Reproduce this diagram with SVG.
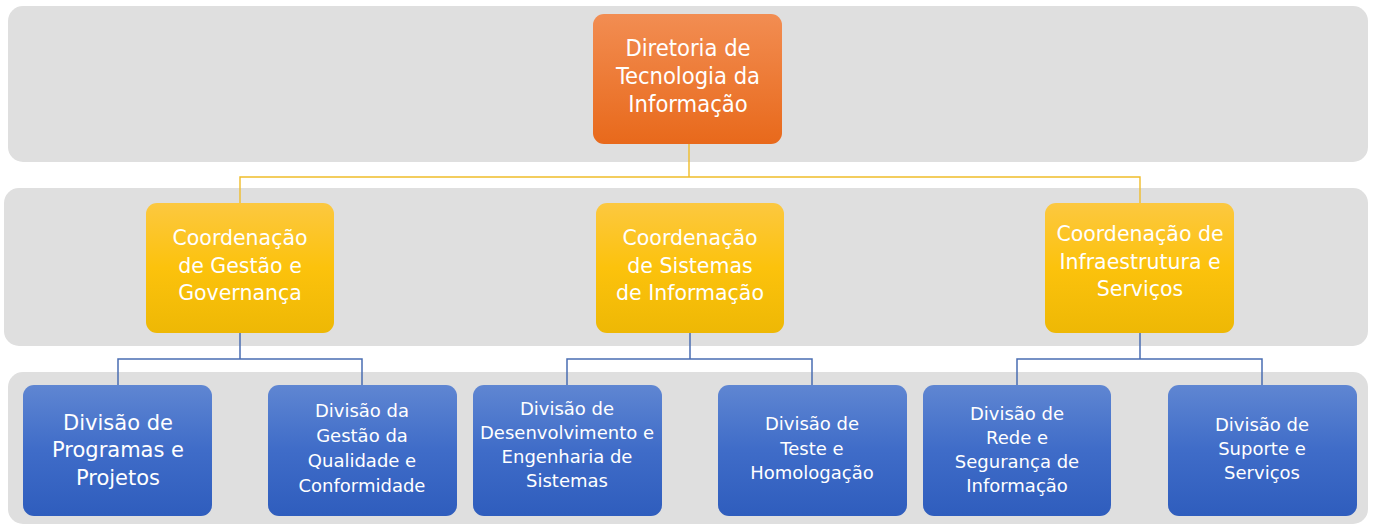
<svg xmlns="http://www.w3.org/2000/svg" width="1376" height="524" viewBox="0 0 1376 524">
<defs>
<linearGradient id="gOrange" x1="0" y1="0" x2="0" y2="1">
<stop offset="0" stop-color="#f28d52"/>
<stop offset="1" stop-color="#e8691b"/>
</linearGradient>
<linearGradient id="gYellow" x1="0" y1="0" x2="0" y2="1">
<stop offset="0" stop-color="#fcc840"/>
<stop offset="0.5" stop-color="#fcc20c"/>
<stop offset="1" stop-color="#eeb805"/>
</linearGradient>
<linearGradient id="gBlue" x1="0" y1="0" x2="0" y2="1">
<stop offset="0" stop-color="#5f86d2"/>
<stop offset="0.5" stop-color="#3f6cc8"/>
<stop offset="1" stop-color="#2f5dbd"/>
</linearGradient>
</defs>
<style>
.band{fill:#dfdfdf}
.n{stroke:none}
.t{fill:#ffffff;font-family:"DejaVu Sans","Liberation Sans",sans-serif;text-anchor:middle}
.tc{fill:#ffffff;font-family:"DejaVu Sans Condensed","DejaVu Sans",sans-serif;font-stretch:condensed;text-anchor:middle;font-size:23.5px}
.ty{font-size:20.5px}
.tb{font-size:18px}
.tb2{font-size:21px}
.cy{fill:none;stroke:#f0bd2a;stroke-width:1.4}
.cb{fill:none;stroke:#4a6db3;stroke-width:1.5}
</style>
<rect width="1376" height="524" fill="#ffffff"/>
<g id="bands">
<rect class="band" x="8" y="6" width="1360" height="156" rx="15"/>
<rect class="band" x="4" y="188" width="1364" height="158" rx="15"/>
<rect class="band" x="8" y="372" width="1360" height="152" rx="15"/>
</g>
<g id="connectors">
<path class="cy" d="M689 144 V177 M240 203 V177 H1140 V203"/>
<path class="cb" d="M240 333 V359 M118 385 V359 H362 V385"/>
<path class="cb" d="M690 333 V359 M567 385 V359 H812 V385"/>
<path class="cb" d="M1140 333 V359 M1017 385 V359 H1262 V385"/>
</g>
<g id="n-diretoria">
<rect class="n" x="593" y="14" width="189" height="130" rx="11" fill="url(#gOrange)"/>
<text class="tc"><tspan x="688" y="56">Diretoria de</tspan><tspan x="688" y="84">Tecnologia da</tspan><tspan x="688" y="112">Informação</tspan></text>
</g>
<g id="n-coord-gestao">
<rect class="n" x="146" y="203" width="188" height="130" rx="11" fill="url(#gYellow)"/>
<text class="t ty"><tspan x="240" y="245">Coordenação</tspan><tspan x="240" y="273">de Gestão e</tspan><tspan x="240" y="300">Governança</tspan></text>
</g>
<g id="n-coord-sistemas">
<rect class="n" x="596" y="203" width="188" height="130" rx="11" fill="url(#gYellow)"/>
<text class="t ty"><tspan x="690" y="245">Coordenação</tspan><tspan x="690" y="273">de Sistemas</tspan><tspan x="690" y="300">de Informação</tspan></text>
</g>
<g id="n-coord-infra">
<rect class="n" x="1045" y="203" width="189" height="130" rx="11" fill="url(#gYellow)"/>
<text class="t ty"><tspan x="1140" y="241">Coordenação de</tspan><tspan x="1140" y="269">Infraestrutura e</tspan><tspan x="1140" y="296">Serviços</tspan></text>
</g>
<g id="n-div-programas">
<rect class="n" x="23" y="385" width="189" height="131" rx="11" fill="url(#gBlue)"/>
<text class="t tb2"><tspan x="118" y="430">Divisão de</tspan><tspan x="118" y="457">Programas e</tspan><tspan x="118" y="485">Projetos</tspan></text>
</g>
<g id="n-div-qualidade">
<rect class="n" x="268" y="385" width="189" height="131" rx="11" fill="url(#gBlue)"/>
<text class="t tb"><tspan x="362" y="417">Divisão da</tspan><tspan x="362" y="442">Gestão da</tspan><tspan x="362" y="467">Qualidade e</tspan><tspan x="362" y="492">Conformidade</tspan></text>
</g>
<g id="n-div-desenvolvimento">
<rect class="n" x="473" y="385" width="189" height="131" rx="11" fill="url(#gBlue)"/>
<text class="t tb"><tspan x="567" y="415">Divisão de</tspan><tspan x="567" y="439">Desenvolvimento e</tspan><tspan x="567" y="463">Engenharia de</tspan><tspan x="567" y="487">Sistemas</tspan></text>
</g>
<g id="n-div-teste">
<rect class="n" x="718" y="385" width="189" height="131" rx="11" fill="url(#gBlue)"/>
<text class="t tb"><tspan x="812" y="430">Divisão de</tspan><tspan x="812" y="455">Teste e</tspan><tspan x="812" y="479">Homologação</tspan></text>
</g>
<g id="n-div-rede">
<rect class="n" x="923" y="385" width="188" height="131" rx="11" fill="url(#gBlue)"/>
<text class="t tb"><tspan x="1017" y="420">Divisão de</tspan><tspan x="1017" y="444">Rede e</tspan><tspan x="1017" y="468">Segurança de</tspan><tspan x="1017" y="492">Informação</tspan></text>
</g>
<g id="n-div-suporte">
<rect class="n" x="1168" y="385" width="189" height="131" rx="11" fill="url(#gBlue)"/>
<text class="t tb"><tspan x="1262" y="431">Divisão de</tspan><tspan x="1262" y="455">Suporte e</tspan><tspan x="1262" y="479">Serviços</tspan></text>
</g>
</svg>
